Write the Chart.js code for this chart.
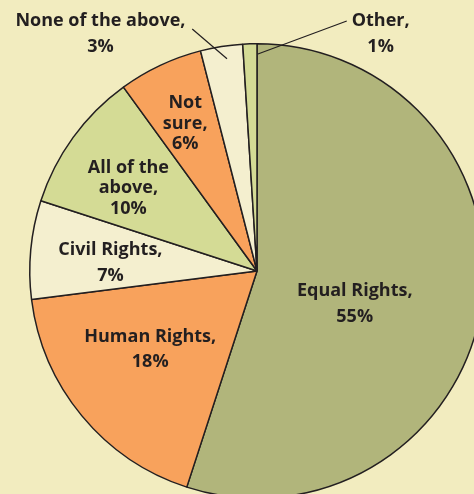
<!DOCTYPE html>
<html>
<head>
<meta charset="utf-8">
<script src="https://cdn.jsdelivr.net/npm/chart.js@4"></script>
<style>
  html, body { margin: 0; padding: 0; background: #f2ecbf; overflow: hidden; width: 474px; height: 494px; }
  #wrap { position: absolute; left: 0; top: 0; width: 540px; height: 540px; }
</style>
</head>
<body>
<div id="wrap"><canvas id="grafico" width="540" height="540"></canvas></div>
<script>
// datos del grafico
const categorias = ["Equal Rights", "Human Rights", "Civil Rights", "All of the above", "Not sure", "None of the above", "Other"];
const porcentajes = [55, 18, 7, 10, 6, 3, 1];
const colores = ["#b1b57b", "#f8a25c", "#f4efcf", "#d4db95", "#f8a25c", "#f4efcf", "#d4db95"];

// textos de las etiquetas (lineas)
const lineasEtiquetas = [
    ["Equal Rights,", "55%"],
    ["Human Rights,", "18%"],
    ["Civil Rights,", "7%"],
    ["All of the", "above,", "10%"],
    ["Not", "sure,", "6%"],
    ["None of the above,", "3%"],
    ["Other,", "1%"],
];

// posicion de cada etiqueta relativa al centro, en radios
const posEtiquetas = [
    [0.43, 0.145],
    [-0.47, 0.345],
    [-0.645, -0.035],
    [-0.566, -0.365],
    [-0.316, -0.649],
    [-0.689, -1.044],
    [0.544, -1.044],
];

// lineas guia: [desde etiqueta, hasta porcion] en radios
const guias = {
    5: [[-0.285, -1.065], [-0.132, -0.934]],
    6: [[0.395, -1.10], [0.004, -0.955]],
};

const pluginEtiquetas = {
    id: "etiquetas",
    afterDraw(chart) {
        const ctx = chart.ctx;
        const arco = chart.getDatasetMeta(0).data[0];
        const cx = arco.x, cy = arco.y, r = arco.outerRadius;
        ctx.save();
        ctx.fillStyle = "#231f20";
        ctx.strokeStyle = "#231f20";
        ctx.lineWidth = 1.2;
        Object.values(guias).forEach(([a, b]) => {
            ctx.beginPath();
            ctx.moveTo(cx + a[0] * r, cy + a[1] * r);
            ctx.lineTo(cx + b[0] * r, cy + b[1] * r);
            ctx.stroke();
        });
        ctx.font = "bold 18px 'Open Sans', sans-serif";
        ctx.textAlign = "center";
        ctx.textBaseline = "middle";
        lineasEtiquetas.forEach((lineas, i) => {
            const x = cx + posEtiquetas[i][0] * r;
            const y = cy + posEtiquetas[i][1] * r;
            const alto = lineas.length === 3 ? 20.5 : 25.5;
            const inicio = y - (alto * (lineas.length - 1)) / 2;
            lineas.forEach((t, j) => ctx.fillText(t, x, inicio + j * alto));
        });
        ctx.restore();
    },
};

new Chart(document.getElementById("grafico"), {
    type: "pie",
    data: {
        labels: categorias,
        datasets: [
            {
                data: porcentajes,
                backgroundColor: colores,
                borderColor: "#231f20",
                borderWidth: 1.5,
            },
        ],
    },
    options: {
        responsive: false,
        animation: false,
        devicePixelRatio: 1,
        layout: { padding: { left: 29, top: 43, right: 55, bottom: 41 } },
        plugins: {
            legend: { display: false },
            tooltip: { enabled: false },
        },
    },
    plugins: [pluginEtiquetas],
});
</script>
</body>
</html>
